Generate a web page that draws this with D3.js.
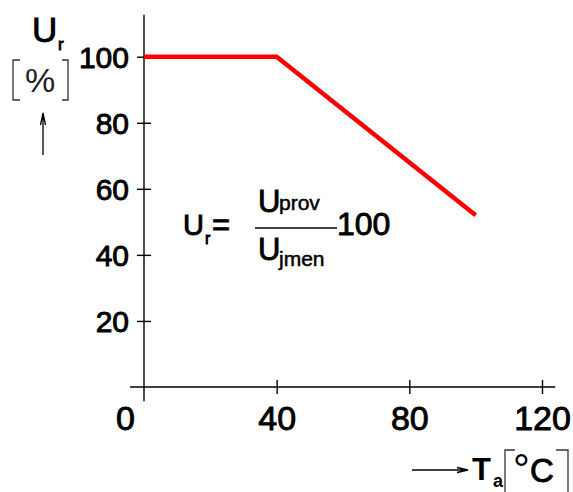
<!DOCTYPE html>
<html>
<head>
<meta charset="utf-8">
<script src="https://cdn.jsdelivr.net/npm/d3@7"></script>
<style>
  body { margin: 0; background: #fff; }
  text { font-family: "Liberation Sans", Arial, sans-serif; fill: #000; }
  text.heavy { stroke: #000; stroke-width: 0.9px; }
</style>
</head>
<body>
<div id="chart"></div>
<script>
// data
const temps = [0, 40, 100];
const ratio = [100, 100, 52];
const xTicks = [0, 40, 80, 120];
const yTicks = [20, 40, 60, 80, 100];

const width = 573, height = 492;

const svg = d3.select("#chart").append("svg")
    .attr("width", width)
    .attr("height", height);

// scales: 0 -> 144px, 40 units -> 132.7px ; 0 -> 387px, 100 -> 56.7px
const x = d3.scaleLinear().domain([0, 120]).range([144, 542]);
const y = d3.scaleLinear().domain([0, 100]).range([387, 56.7]);

// axis lines (extend a little past the origin like the original)
svg.append("line")
    .attr("x1", x(-4.2)).attr("x2", x(124))
    .attr("y1", y(0)).attr("y2", y(0))
    .attr("stroke", "#000").attr("stroke-width", 1.4);

svg.append("line")
    .attr("x1", x(0)).attr("x2", x(0))
    .attr("y1", y(112.7)).attr("y2", y(-4.3))
    .attr("stroke", "#000").attr("stroke-width", 1.4);

// Y axis
const yAxis = svg.append("g")
    .attr("transform", `translate(${x(0)},0)`)
    .call(d3.axisLeft(y).tickValues(yTicks).tickSize(7).tickPadding(8));
yAxis.select(".domain").remove();
yAxis.selectAll(".tick line")
    .attr("x1", 7).attr("x2", -7)
    .attr("stroke", "#000").attr("stroke-width", 1.4);
yAxis.selectAll(".tick text")
    .attr("class", "heavy")
    .attr("x", -15)
    .attr("dy", "0.36em")
    .style("font-size", "30px")
    .style("font-family", "'Liberation Sans', Arial, sans-serif")
    .attr("fill", "#000");

// X axis
const xAxis = svg.append("g")
    .attr("transform", `translate(0,${y(0)})`)
    .call(d3.axisBottom(x).tickValues(xTicks).tickSize(7));
xAxis.select(".domain").remove();
xAxis.selectAll(".tick line")
    .attr("y1", -7).attr("y2", 7)
    .attr("stroke", "#000").attr("stroke-width", 1.4)
    .attr("display", d => d === 0 ? "none" : null);
xAxis.selectAll(".tick text")
    .attr("class", "heavy")
    .attr("y", 43)
    .attr("dy", 0)
    .attr("x", d => d === 0 ? -19 : 0)
    .style("font-size", "34px")
    .style("font-family", "'Liberation Sans', Arial, sans-serif")
    .attr("fill", "#000");

// red curve
const line = d3.line()
    .x((d, i) => x(temps[i]))
    .y(d => y(d));

svg.append("path")
    .datum(ratio)
    .attr("fill", "none")
    .attr("stroke", "#ff0000")
    .attr("stroke-width", 4.6)
    .attr("stroke-linejoin", "round")
    .attr("d", line);

// --- Y axis label: U_r [%] with up arrow
svg.append("text").attr("class", "heavy").attr("x", 32).attr("y", 42)
    .style("font-size", "35px").text("U");
svg.append("text").attr("class", "heavy").attr("x", 58).attr("y", 50)
    .style("font-size", "17px").text("r");

svg.append("path")
    .attr("d", "M20,60H13V100H20M62,60H68V100H62")
    .attr("fill", "none").attr("stroke", "#333").attr("stroke-width", 1.3);
svg.append("text").attr("x", 40).attr("y", 92)
    .attr("text-anchor", "middle")
    .style("font-size", "34px").style("fill", "#222").text("%");

svg.append("path")
    .attr("d", "M43,155V114M40.5,125L43,113L45.5,125")
    .attr("fill", "none").attr("stroke", "#000").attr("stroke-width", 1.3);

// --- formula
svg.append("text").attr("class", "heavy").attr("x", 183).attr("y", 235)
    .style("font-size", "29px").text("U");
svg.append("text").attr("class", "heavy").attr("x", 205).attr("y", 244)
    .style("font-size", "16px").text("r");
svg.append("text").attr("class", "heavy").attr("x", 212).attr("y", 235)
    .style("font-size", "31px").text("=");
svg.append("text").attr("class", "heavy").attr("x", 258).attr("y", 212)
    .style("font-size", "31px").text("U");
svg.append("text").attr("x", 279).attr("y", 210)
    .style("font-size", "21px").style("stroke", "#000").style("stroke-width", "0.5px").text("prov");
svg.append("line")
    .attr("x1", 255).attr("x2", 337).attr("y1", 228).attr("y2", 228)
    .attr("stroke", "#000").attr("stroke-width", 1.4);
svg.append("text").attr("class", "heavy").attr("x", 258).attr("y", 260)
    .style("font-size", "31px").text("U");
svg.append("text").attr("x", 279).attr("y", 266)
    .style("font-size", "21px").style("stroke", "#000").style("stroke-width", "0.5px").text("jmen");
svg.append("text").attr("class", "heavy").attr("x", 337).attr("y", 235)
    .style("font-size", "32px").text("100");

// --- X axis label: -> T_a [°C]
svg.append("path")
    .attr("d", "M412,470H467M457,467.5L468,470L457,472.5")
    .attr("fill", "none").attr("stroke", "#000").attr("stroke-width", 1.3);
svg.append("text").attr("x", 472).attr("y", 480)
    .style("font-size", "31px").style("font-weight", "bold").text("T");
svg.append("text").attr("x", 493).attr("y", 487)
    .style("font-size", "18px").style("font-weight", "bold").text("a");
svg.append("path")
    .attr("d", "M515,450H505V492M556,450H568V492")
    .attr("fill", "none").attr("stroke", "#333").attr("stroke-width", 1.3);
svg.append("text").attr("x", 513).attr("y", 484)
    .style("font-size", "42px").text("°");
svg.append("text").attr("class", "heavy").attr("x", 530).attr("y", 482)
    .style("font-size", "33px").text("C");
</script>
</body>
</html>
